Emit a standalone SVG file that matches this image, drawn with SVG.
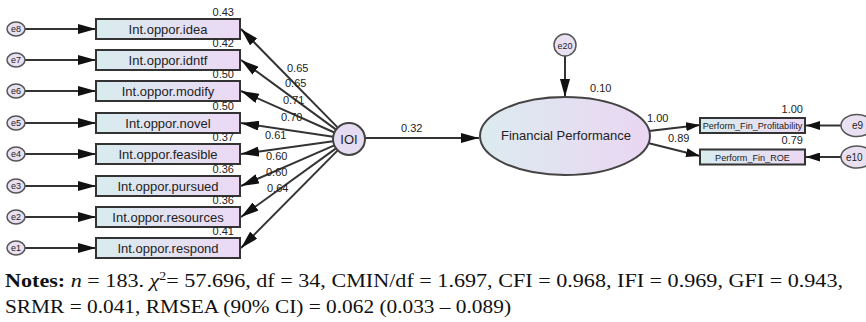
<svg xmlns="http://www.w3.org/2000/svg" width="866" height="322" viewBox="0 0 866 322">
<defs>
<linearGradient id="boxg" x1="0" y1="0" x2="1" y2="0">
<stop offset="0" stop-color="#d8ecee"/>
<stop offset="1" stop-color="#ecd8f4"/>
</linearGradient>
<linearGradient id="ellg" x1="0" y1="0" x2="1" y2="0">
<stop offset="0" stop-color="#dcebf0"/>
<stop offset="1" stop-color="#ead6f2"/>
</linearGradient>
<marker id="ah" markerWidth="18" markerHeight="10" refX="18" refY="5" orient="auto" markerUnits="userSpaceOnUse">
<path d="M0,0 L18,5 L0,10 Z" fill="#111"/>
</marker>
<marker id="ahs" markerWidth="14" markerHeight="9" refX="14" refY="4.5" orient="auto" markerUnits="userSpaceOnUse">
<path d="M0,0 L14,4.5 L0,9 Z" fill="#111"/>
</marker>
</defs>
<style>
.box{fill:url(#boxg);stroke:#333;stroke-width:2}
.err{fill:#e9e1f2;stroke:#555;stroke-width:1.5}
.lat{fill:#e6dcf2;stroke:#444;stroke-width:2}
.ln{stroke:#333;stroke-width:2;fill:none;marker-end:url(#ah)}
.lns{stroke:#333;stroke-width:2;fill:none;marker-end:url(#ahs)}
.t{font-family:"Liberation Sans",Arial,sans-serif;fill:#222}
.lbl{font-size:13px;text-anchor:middle}
.num{font-size:11px}
.el{font-size:9px;text-anchor:middle}
.sm{font-size:9.1px;text-anchor:middle}
.note{font-family:"Liberation Serif","Times New Roman",serif;font-size:19px;fill:#111}
</style>

<g id="connectors">
<!-- error to indicator -->
<line class="ln" x1="25" y1="29" x2="96" y2="29"/>
<line class="ln" x1="25" y1="60" x2="96" y2="60"/>
<line class="ln" x1="25" y1="91" x2="96" y2="91"/>
<line class="ln" x1="25" y1="123" x2="96" y2="123"/>
<line class="ln" x1="25" y1="154" x2="96" y2="154"/>
<line class="ln" x1="25" y1="186" x2="96" y2="186"/>
<line class="ln" x1="25" y1="217" x2="96" y2="217"/>
<line class="ln" x1="25" y1="248" x2="96" y2="248"/>
<!-- IOI to indicators -->
<line class="ln" x1="337.8" y1="127.6" x2="241" y2="29"/>
<line class="ln" x1="336.1" y1="129.6" x2="241" y2="60"/>
<line class="ln" x1="334.4" y1="132.5" x2="241" y2="91"/>
<line class="ln" x1="333.2" y1="136.7" x2="241" y2="123"/>
<line class="ln" x1="333.1" y1="141.2" x2="241" y2="154"/>
<line class="ln" x1="334.3" y1="145.4" x2="241" y2="186"/>
<line class="ln" x1="336.0" y1="148.4" x2="241" y2="217"/>
<line class="ln" x1="337.7" y1="150.4" x2="241" y2="248"/>
<!-- IOI to FP -->
<line class="ln" x1="365" y1="138" x2="479" y2="138"/>
<!-- e20 to FP -->
<line class="ln" x1="565" y1="56" x2="565" y2="97"/>
<!-- FP to indicators -->
<line class="lns" x1="649" y1="131" x2="700" y2="125"/>
<line class="lns" x1="648" y1="143" x2="700" y2="156"/>
<!-- errors to right indicators -->
<line class="lns" x1="841" y1="125.5" x2="806" y2="125.5"/>
<line class="lns" x1="841" y1="157" x2="806" y2="157"/>
</g>

<g id="e8"><ellipse class="err" cx="16" cy="29" rx="9" ry="7"/><text class="t el" x="16" y="32">e8</text></g>
<g id="e7"><ellipse class="err" cx="16" cy="60" rx="9" ry="7"/><text class="t el" x="16" y="63">e7</text></g>
<g id="e6"><ellipse class="err" cx="16" cy="91" rx="9" ry="7"/><text class="t el" x="16" y="94">e6</text></g>
<g id="e5"><ellipse class="err" cx="16" cy="123" rx="9" ry="7"/><text class="t el" x="16" y="126">e5</text></g>
<g id="e4"><ellipse class="err" cx="16" cy="154" rx="9" ry="7"/><text class="t el" x="16" y="157">e4</text></g>
<g id="e3"><ellipse class="err" cx="16" cy="186" rx="9" ry="7"/><text class="t el" x="16" y="189">e3</text></g>
<g id="e2"><ellipse class="err" cx="16" cy="217" rx="9" ry="7"/><text class="t el" x="16" y="220">e2</text></g>
<g id="e1"><ellipse class="err" cx="16" cy="248" rx="9" ry="7"/><text class="t el" x="16" y="251">e1</text></g>

<g id="idea"><rect class="box" x="96" y="19" width="144" height="20"/><text class="t lbl" x="168" y="34">Int.oppor.idea</text><text class="t num" x="234" y="16" text-anchor="end">0.43</text></g>
<g id="idntf"><rect class="box" x="96" y="50" width="144" height="20"/><text class="t lbl" x="168" y="65">Int.oppor.idntf</text><text class="t num" x="234" y="47" text-anchor="end">0.42</text></g>
<g id="modify"><rect class="box" x="96" y="81" width="144" height="20"/><text class="t lbl" x="168" y="96">Int.oppor.modify</text><text class="t num" x="234" y="78" text-anchor="end">0.50</text></g>
<g id="novel"><rect class="box" x="96" y="113" width="144" height="20"/><text class="t lbl" x="168" y="128">Int.oppor.novel</text><text class="t num" x="234" y="110" text-anchor="end">0.50</text></g>
<g id="feasible"><rect class="box" x="96" y="144" width="144" height="20"/><text class="t lbl" x="168" y="159">Int.oppor.feasible</text><text class="t num" x="234" y="141" text-anchor="end">0.37</text></g>
<g id="pursued"><rect class="box" x="96" y="176" width="144" height="20"/><text class="t lbl" x="168" y="191">Int.oppor.pursued</text><text class="t num" x="234" y="173" text-anchor="end">0.36</text></g>
<g id="resources"><rect class="box" x="96" y="207" width="144" height="20"/><text class="t lbl" x="168" y="222">Int.oppor.resources</text><text class="t num" x="234" y="204" text-anchor="end">0.36</text></g>
<g id="respond"><rect class="box" x="96" y="238" width="144" height="20"/><text class="t lbl" x="168" y="253">Int.oppor.respond</text><text class="t num" x="234" y="235" text-anchor="end">0.41</text></g>

<g id="loadings">
<text class="t num" x="287" y="72">0.65</text>
<text class="t num" x="285" y="87">0.65</text>
<text class="t num" x="283" y="104">0.71</text>
<text class="t num" x="281" y="121">0.70</text>
<text class="t num" x="265" y="139">0.61</text>
<text class="t num" x="266" y="160">0.60</text>
<text class="t num" x="266" y="176">0.60</text>
<text class="t num" x="267" y="192">0.64</text>
<text class="t num" x="401" y="132">0.32</text>
<text class="t num" x="590" y="92">0.10</text>
<text class="t num" x="647" y="122">1.00</text>
<text class="t num" x="668" y="142">0.89</text>
</g>

<g id="IOI"><circle class="lat" cx="349" cy="139" r="16"/><text class="t lbl" x="349" y="144">IOI</text></g>
<g id="e20"><circle class="err" cx="565" cy="45" r="11"/><text class="t el" x="565" y="48.5">e20</text></g>
<g id="FP"><ellipse cx="565" cy="136" rx="85" ry="39" fill="url(#ellg)" stroke="#444" stroke-width="2"/><text class="t lbl" x="566" y="140">Financial Performance</text></g>

<g id="profit"><rect class="box" x="700" y="118" width="105" height="15"/><text class="t sm" x="752.5" y="129">Perform_Fin_Profitability</text><text class="t num" x="803" y="113" text-anchor="end">1.00</text></g>
<g id="roe"><rect class="box" x="700" y="149.5" width="105" height="15"/><text class="t sm" x="752.5" y="160.5">Perform_Fin_ROE</text><text class="t num" x="803" y="144" text-anchor="end">0.79</text></g>
<g id="e9"><ellipse class="err" cx="857" cy="125.5" rx="16" ry="11"/><text class="t" font-size="10" x="852" y="129">e9</text></g>
<g id="e10"><ellipse class="err" cx="857" cy="157" rx="16" ry="11"/><text class="t" font-size="10" x="846" y="160.5">e10</text></g>

<g id="notes">
<text class="note" x="5" y="287" textLength="838" lengthAdjust="spacingAndGlyphs"><tspan font-weight="bold">Notes:</tspan> <tspan font-style="italic">n</tspan> = 183. <tspan font-style="italic">χ</tspan><tspan dy="-7" font-size="12">2</tspan><tspan dy="7">= 57.696, df = 34, CMIN/df = 1.697, CFI = 0.968, IFI = 0.969, GFI = 0.943,</tspan></text>
<text class="note" x="5" y="313" textLength="506" lengthAdjust="spacingAndGlyphs">SRMR = 0.041, RMSEA (90% CI) = 0.062 (0.033 – 0.089)</text>
</g>
</svg>
